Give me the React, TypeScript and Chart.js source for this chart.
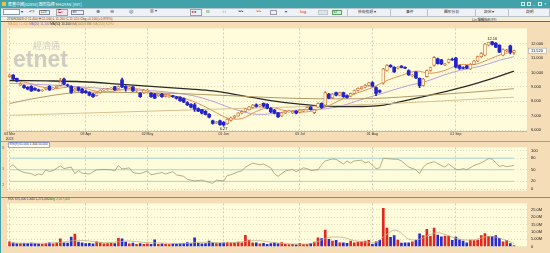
import React, { useEffect, useRef } from 'react';
import { Chart, registerables } from 'chart.js';
Chart.register(...registerables);

// ---------------- data ----------------
const lastDate = '27/09/2023';
const dateTickIdx = [0, 21, 38, 59, 80, 100, 123];
const dateTickLabels: (string | string[])[] = [['03 Mar', '2023'], '03 Apr', '02 May', '01 Jun', '03 Jul', '01 Aug', '01 Sep'];

const opens = [
  9.72, 9.82, 9.60, 9.12, 9.10, 8.98, 9.05, 8.90, 8.80, 8.72,
  8.85, 9.05, 8.85, 8.95, 9.10, 9.55, 9.15, 9.05, 8.72, 8.95,
  8.85, 8.72, 8.62, 8.50, 8.40, 8.60, 8.80, 8.82, 8.86, 9.00,
  8.90, 9.50, 9.05, 8.95, 9.00, 8.72, 8.55, 8.60, 8.75, 8.55,
  8.50, 8.40, 8.50, 8.35, 8.32, 8.38, 8.32, 8.30, 8.20, 7.92,
  7.80, 7.75, 7.50, 7.42, 7.30, 7.10, 6.65, 6.50, 6.65, 6.55,
  6.45, 6.68, 6.88, 6.98, 7.18, 7.30, 7.42, 7.55, 7.76, 7.68,
  7.86, 7.80, 7.52, 7.40, 7.20, 6.98, 7.20, 7.28, 7.20, 7.32,
  7.25, 7.33, 7.42, 7.60, 7.22, 7.60, 7.86, 7.75, 8.50, 8.25,
  8.60, 8.42, 8.60, 8.40, 8.36, 8.55, 8.75, 8.88, 8.98, 9.10,
  9.30, 8.95, 8.75, 9.27, 10.15, 10.50, 10.36, 10.30, 10.44, 10.36,
  10.14, 9.76, 10.03, 9.60, 9.10, 9.72, 10.14, 10.50, 10.95, 10.88,
  10.52, 10.70, 10.92, 11.00, 10.48, 10.34, 10.47, 10.25, 10.58, 10.80,
  11.10, 11.20, 11.90, 12.14, 12.05, 11.90, 11.20, 11.52, 11.85, 11.40,
];
const highs = [
  9.88, 9.85, 9.62, 9.30, 9.15, 9.02, 9.10, 8.95, 8.85, 8.82,
  8.95, 9.10, 8.98, 9.10, 9.60, 9.62, 9.20, 9.10, 8.90, 9.00,
  8.90, 8.78, 8.68, 8.55, 8.62, 8.82, 8.88, 8.90, 8.95, 9.05,
  9.08, 9.62, 9.10, 9.05, 9.02, 8.82, 8.60, 8.82, 8.85, 8.60,
  8.55, 8.55, 8.55, 8.48, 8.45, 8.42, 8.35, 8.32, 8.25, 7.98,
  7.85, 7.86, 7.55, 7.45, 7.35, 7.15, 6.70, 6.62, 6.70, 6.60,
  6.80, 6.90, 7.02, 7.22, 7.35, 7.52, 7.66, 7.80, 7.82, 7.80,
  7.90, 7.84, 7.56, 7.44, 7.24, 7.24, 7.38, 7.38, 7.35, 7.36,
  7.45, 7.42, 7.62, 7.64, 7.46, 7.90, 7.90, 8.68, 8.56, 8.55,
  8.64, 8.65, 8.64, 8.45, 8.58, 8.78, 8.94, 9.04, 9.16, 9.32,
  9.38, 9.00, 8.80, 10.30, 10.55, 10.55, 10.42, 10.42, 10.48, 10.40,
  10.18, 9.88, 10.06, 9.64, 9.60, 10.18, 10.38, 11.10, 11.00, 10.92,
  10.64, 10.94, 11.00, 11.05, 10.52, 10.40, 10.50, 10.62, 10.84, 11.14,
  11.38, 12.02, 12.12, 12.16, 12.08, 11.92, 11.64, 11.62, 11.90, 11.56,
];
const lows = [
  9.66, 9.50, 9.35, 9.08, 8.90, 8.80, 8.68, 8.75, 8.68, 8.68,
  8.80, 8.75, 8.82, 8.90, 9.05, 9.15, 9.02, 8.55, 8.68, 8.70,
  8.55, 8.55, 8.38, 8.28, 8.36, 8.55, 8.75, 8.78, 8.82, 8.75,
  8.85, 8.95, 8.70, 8.90, 8.68, 8.65, 8.28, 8.55, 8.70, 8.28,
  8.18, 8.35, 8.28, 8.30, 8.28, 8.28, 8.15, 8.00, 7.90, 7.70,
  7.55, 7.30, 7.28, 7.12, 7.05, 6.85, 6.42, 6.45, 6.32, 6.27,
  6.40, 6.62, 6.82, 6.95, 7.12, 7.25, 7.38, 7.50, 7.60, 7.62,
  7.60, 7.48, 7.22, 7.12, 6.88, 6.94, 7.15, 7.24, 7.15, 7.12,
  7.20, 7.28, 7.38, 7.38, 7.15, 7.56, 7.50, 7.70, 8.18, 8.18,
  8.38, 8.38, 8.28, 8.22, 8.32, 8.50, 8.70, 8.84, 8.94, 9.06,
  9.00, 8.40, 8.58, 9.20, 10.10, 10.35, 10.00, 10.25, 10.32, 10.26,
  9.80, 9.72, 9.58, 8.95, 9.05, 9.68, 10.10, 10.45, 10.58, 10.55,
  10.48, 10.65, 10.84, 10.32, 10.22, 10.25, 10.26, 10.20, 10.54, 10.76,
  11.05, 11.15, 11.85, 11.90, 11.72, 11.38, 11.15, 11.45, 11.30, 11.26,
];
const closes = [
  9.82, 9.55, 9.40, 9.22, 8.95, 8.85, 8.72, 8.80, 8.72, 8.78,
  8.90, 8.80, 8.92, 9.05, 9.35, 9.20, 9.10, 8.62, 8.85, 8.75,
  8.60, 8.60, 8.42, 8.32, 8.58, 8.78, 8.83, 8.86, 8.90, 8.80,
  9.02, 9.00, 8.90, 9.00, 8.72, 8.75, 8.32, 8.78, 8.78, 8.32,
  8.22, 8.50, 8.32, 8.42, 8.40, 8.32, 8.20, 8.05, 7.95, 7.75,
  7.60, 7.45, 7.32, 7.18, 7.10, 6.90, 6.47, 6.56, 6.38, 6.36,
  6.76, 6.85, 6.96, 7.18, 7.30, 7.48, 7.62, 7.74, 7.65, 7.75,
  7.66, 7.52, 7.26, 7.18, 6.92, 7.20, 7.33, 7.32, 7.30, 7.17,
  7.40, 7.38, 7.57, 7.42, 7.42, 7.85, 7.56, 8.60, 8.22, 8.50,
  8.42, 8.60, 8.32, 8.28, 8.55, 8.75, 8.90, 9.00, 9.12, 9.28,
  9.05, 8.55, 8.65, 10.25, 10.48, 10.40, 10.05, 10.38, 10.36, 10.30,
  9.84, 9.82, 9.62, 9.08, 9.55, 10.14, 10.34, 11.05, 10.62, 10.60,
  10.60, 10.90, 10.88, 10.38, 10.28, 10.30, 10.30, 10.58, 10.80, 11.10,
  11.32, 11.98, 12.10, 11.96, 11.76, 11.42, 11.60, 11.58, 11.42, 11.52,
];
// volume in millions of shares
const volumes = [
  3.2, 2.5, 2.0, 2.0, 2.2, 2.2, 2.3, 2.2, 1.8, 1.5,
  2.0, 2.6, 1.8, 2.6, 5.2, 2.5, 2.4, 6.4, 8.5, 3.0,
  2.5, 2.0, 2.2, 1.8, 3.2, 2.5, 1.8, 2.0, 2.2, 2.0,
  5.6, 5.2, 3.0, 1.8, 2.4, 1.5, 2.0, 1.6, 1.8, 1.5,
  4.6, 1.6, 1.8, 1.5, 1.4, 1.8, 1.8, 2.0, 2.2, 2.8,
  2.0, 6.0, 2.2, 1.8, 2.0, 3.7, 2.5, 2.0, 2.2, 2.6,
  2.8, 2.5, 2.6, 3.0, 2.6, 7.7, 4.5, 2.5, 2.5, 1.8,
  2.2, 1.6, 2.0, 2.5, 2.0, 2.8, 1.6, 1.4, 1.5, 1.2,
  2.2, 1.6, 1.6, 2.2, 3.0, 6.0, 5.5, 11.2, 5.0, 3.7,
  4.2, 2.5, 2.5, 2.2, 3.7, 2.5, 3.0, 3.2, 3.7, 4.2,
  1.5, 3.2, 4.2, 25.9, 12.6, 6.2, 7.5, 4.4, 2.3, 2.5,
  2.5, 3.2, 4.2, 8.7, 7.5, 11.7, 6.9, 12.6, 7.8, 6.7,
  7.2, 7.2, 4.2, 6.4, 4.6, 3.7, 2.5, 4.4, 4.0, 4.4,
  7.5, 8.8, 6.9, 6.9, 7.5, 5.6, 3.2, 4.2, 2.0, 0.675,
];

const ma10Idx = [0, 4, 8, 12, 16, 20, 24, 28, 32, 36, 40, 44, 48, 52, 56, 60, 64, 68, 72, 76, 80, 84, 88, 92, 96, 100, 104, 108, 112, 116, 120, 124, 128, 132, 136, 139];
const ma10Val = [9.4, 9.35, 9.05, 8.88, 8.98, 8.95, 8.7, 8.68, 8.85, 8.85, 8.55, 8.45, 8.22, 7.85, 7.35, 6.85, 6.8, 7.3, 7.58, 7.35, 7.25, 7.35, 7.7, 8.2, 8.6, 8.95, 9.45, 9.8, 10.1, 9.95, 10.15, 10.55, 10.55, 10.9, 11.3, 11.4];
const ma20Idx = [0, 10, 20, 30, 40, 50, 56, 62, 68, 74, 80, 86, 92, 96, 102, 110, 115, 120, 124, 130, 135, 139];
const ma20Val = [9.25, 9.15, 9.0, 8.82, 8.72, 8.42, 8.0, 7.45, 7.1, 7.2, 7.42, 7.45, 7.72, 8.05, 8.5, 9.1, 9.4, 9.85, 10.14, 10.45, 10.85, 11.1];
const ma50Idx = [0, 10, 20, 30, 40, 50, 56, 64, 72, 80, 88, 96, 102, 110, 118, 126, 132, 139];
const ma50Val = [9.45, 9.42, 9.36, 9.2, 9.02, 8.85, 8.72, 8.4, 8.05, 7.8, 7.65, 7.64, 7.7, 8.1, 8.55, 9.05, 9.5, 10.1];
const ma100Idx = [0, 8, 18, 30, 45, 60, 80, 100, 115, 128, 139];
const ma100Val = [7.85, 8.25, 8.6, 8.62, 8.55, 8.4, 8.2, 8.2, 8.42, 8.65, 8.88];
const ma250Idx = [0, 52, 100, 139];
const ma250Val = [7.03, 7.42, 7.8, 8.29];

const rsiIdx = [0, 1, 2, 3, 4, 6, 7, 8, 9, 10, 11, 12, 14, 15, 17, 18, 19, 20, 22, 24, 26, 28, 29, 30, 31, 33, 34, 35, 36, 38, 39, 41, 42, 43, 45, 46, 48, 49, 51, 53, 54, 56, 57, 59, 60, 61, 63, 64, 65, 67, 69, 70, 72, 73, 74, 76, 78, 79, 81, 82, 83, 85, 86, 87, 89, 90, 92, 93, 94, 95, 97, 98, 99, 101, 102, 103, 105, 107, 108, 110, 112, 113, 114, 115, 117, 119, 120, 121, 123, 124, 125, 126, 128, 130, 132, 133, 135, 136, 137, 139];
const rsiVal = [57, 63, 53, 47, 43, 40, 35, 39, 37, 50, 45, 48, 60, 53, 57, 40, 48, 41, 39, 50, 51, 50, 47, 61, 52, 55, 43, 41, 40, 47, 37, 41, 43, 39, 45, 37, 33, 25, 21, 23, 20, 15, 23, 21, 35, 37, 45, 47, 57, 67, 63, 65, 55, 40, 33, 47, 51, 45, 55, 53, 48, 50, 63, 73, 78, 77, 65, 73, 67, 73, 75, 68, 71, 53, 55, 80, 78, 77, 73, 57, 50, 40, 57, 65, 71, 61, 57, 65, 51, 50, 53, 50, 61, 68, 79, 78, 59, 61, 58, 61];
const rsiLevels = [20, 50, 80];

const volMaIdx = [0, 8, 14, 18, 22, 26, 30, 33, 37, 42, 48, 52, 56, 61, 66, 69, 73, 78, 83, 86, 88, 92, 95, 99, 101, 103, 106, 108, 110, 113, 117, 119, 122, 125, 128, 131, 133, 136, 139];
const volMaVal = [2.5, 2.2, 2.8, 4.2, 3.8, 2.6, 3.2, 3.8, 2.8, 2.4, 2.0, 2.9, 2.8, 2.5, 3.8, 4.0, 2.6, 1.8, 2.0, 4.5, 6.2, 6.2, 4.0, 3.0, 2.8, 6.5, 11.2, 9.0, 5.0, 5.0, 9.2, 9.0, 6.4, 4.6, 4.6, 6.5, 6.9, 5.0, 2.2];

const priceTicks = [6, 7, 8, 9, 10, 11, 12];
const rsiTicks = [0, 20, 50, 80, 100];
const volTicks = [0, 5, 10, 15, 20, 25];

// ---------------- layout / style ----------------
const FONT = '"Liberation Sans", Arial, sans-serif';
const CJK = '"Noto Sans CJK TC", "Noto Sans CJK SC", sans-serif';
const X_MIN = -0.7;
const X_MAX = 142.6;
const PRICE_MIN = 5.94;
const PRICE_MAX = 13.065;
const RSI_MIN = -4;
const RSI_MAX = 108;
const VOL_MAX = 29.26;
const C = {
  plot: '#fffcdc', axis: '#f5ddb7', up: '#d27a3e', down: '#2323c8',
  volUp: '#e0281c', volDown: '#2a2acc', ma10: '#e3925a', ma20: '#bb9fd2',
  ma50: '#2a2a2a', ma100: '#b49a66', ma250: '#d8c28e', rsi: '#a29a6e',
  level: '#a3d6d2', volMa: '#bdb088', teal: '#41a2a9',
};

const pts = (xs: number[], ys: number[]) => xs.map((x, i) => ({ x, y: ys[i] }));

const xScale = (showLabels: boolean, h: number) => ({
  type: 'linear', min: X_MIN, max: X_MAX, offset: false,
  afterBuildTicks: (a: any) => { a.ticks = dateTickIdx.map((v) => ({ value: v })); },
  afterFit: (a: any) => { a.height = h; },
  grid: { color: '#bdbcae', lineWidth: 0.7, drawTicks: false, offset: false },
  border: { display: false, dash: [2, 2] },
  ticks: {
    display: showLabels, autoSkip: false, maxRotation: 0, minRotation: 0, padding: 1.5,
    color: '#333', font: { family: FONT, size: 3.5, lineHeight: 1.15 },
    callback: (_v: any, i: number) => dateTickLabels[i],
  },
});
const yScale = (min: number, max: number, vals: number[], fmt: (v: number) => string) => ({
  type: 'linear', position: 'right', min, max, beginAtZero: false,
  afterBuildTicks: (a: any) => { a.ticks = vals.map((v) => ({ value: v })); },
  afterFit: (a: any) => { a.width = 23; },
  grid: { color: '#d2cdb0', lineWidth: 0.7, drawTicks: false },
  border: { display: false, dash: [1, 2] },
  ticks: { padding: 4, color: '#222', font: { family: FONT, size: 4 }, callback: (v: any) => fmt(Number(v)) },
});

const bgPlugin = (watermark: boolean) => ({
  id: 'bg',
  beforeDraw(chart: any) {
    const { ctx, chartArea: a, width, height } = chart;
    ctx.save();
    ctx.fillStyle = C.axis;
    ctx.fillRect(0, 0, width, height);
    ctx.fillStyle = C.plot;
    ctx.fillRect(a.left, a.top, a.right - a.left, a.bottom - a.top);
    if (watermark) {
      ctx.fillStyle = '#cdcdc4';
      ctx.textAlign = 'left';
      ctx.textBaseline = 'alphabetic';
      ctx.font = `9px ${CJK}`;
      ctx.fillText('經濟通', a.left + 26, a.top + 21);
      ctx.font = `bold 23px ${FONT}`;
      ctx.fillText('etnet', a.left + 6, a.top + 39);
    }
    ctx.restore();
  },
});

const markPlugin = {
  id: 'marks',
  afterDatasetsDraw(chart: any) {
    const { ctx, scales, chartArea } = chart;
    const x = scales.x, y = scales.y;
    const hi = Math.max(...highs), hiI = highs.indexOf(hi);
    const lo = Math.min(...lows), loI = lows.indexOf(lo);
    ctx.save();
    ctx.font = `4px ${FONT}`;
    ctx.fillStyle = '#111';
    ctx.textAlign = 'center';
    ctx.textBaseline = 'bottom';
    ctx.fillText(hi.toFixed(2), x.getPixelForValue(hiI), y.getPixelForValue(hi) - 1);
    ctx.textBaseline = 'top';
    ctx.fillText(lo.toFixed(2), x.getPixelForValue(loI), y.getPixelForValue(lo) + 1);
    const last = closes[closes.length - 1];
    const py = y.getPixelForValue(last);
    const bx = chartArea.right + 1.5;
    ctx.fillStyle = '#ffffff';
    ctx.fillRect(bx, py - 2.5, 18, 5);
    ctx.strokeStyle = '#999';
    ctx.lineWidth = 0.5;
    ctx.strokeRect(bx, py - 2.5, 18, 5);
    ctx.fillStyle = '#111';
    ctx.textAlign = 'left';
    ctx.textBaseline = 'middle';
    ctx.fillText(last.toFixed(3), bx + 2.5, py + 0.3);
    ctx.restore();
  },
};

const baseOpts = (scales: any) => ({
  animation: false, responsive: false, events: [],
  layout: { padding: { left: 7, right: 0, top: 0, bottom: 0 }, autoPadding: false },
  plugins: { legend: { display: false }, tooltip: { enabled: false } },
  scales,
});

const maLine = (xs: number[], ys: number[], color: string, w = 1) => ({
  type: 'line', data: pts(xs, ys), borderColor: color, borderWidth: w,
  pointRadius: 0, tension: 0.35, fill: false, order: 5,
});

const Txt = ({ l, t, s = 3.5, c = '#222', f = FONT, w = 400, children }: any) => (
  <div style={{ position: 'absolute', left: l, top: t, fontSize: s, lineHeight: 1, color: c, fontFamily: f, fontWeight: w, whiteSpace: 'nowrap' }}>{children}</div>
);
const Box = ({ l, t, w, h, bg = 'transparent', b = 'none' }: any) => (
  <div style={{ position: 'absolute', left: l, top: t, width: w, height: h, background: bg, border: b, boxSizing: 'border-box' }} />
);

export default function App() {
  const mainRef = useRef<HTMLCanvasElement>(null);
  const rsiRef = useRef<HTMLCanvasElement>(null);
  const volRef = useRef<HTMLCanvasElement>(null);

  useEffect(() => {
    const up = closes.map((c, i) => c >= opens[i]);
    const charts: Chart[] = [];

    charts.push(new Chart(mainRef.current as HTMLCanvasElement, {
      type: 'bar',
      data: {
        datasets: [
          maLine(ma250Idx, ma250Val, C.ma250),
          maLine(ma100Idx, ma100Val, C.ma100),
          maLine(ma50Idx, ma50Val, C.ma50, 1.3),
          maLine(ma20Idx, ma20Val, C.ma20),
          maLine(ma10Idx, ma10Val, C.ma10),
          {
            type: 'bar', order: 2, grouped: false, barThickness: 1,
            data: closes.map((_, i) => ({ x: i, y: [lows[i], highs[i]] })),
            backgroundColor: up.map((u) => (u ? C.up : C.down)),
          },
          {
            type: 'bar', order: 1, grouped: false, barThickness: 3, borderSkipped: false,
            data: closes.map((c, i) => ({ x: i, y: [opens[i], c] })),
            backgroundColor: up.map((u) => (u ? C.plot : C.down)),
            borderColor: up.map((u) => (u ? C.up : C.down)),
            borderWidth: up.map((u) => (u ? 0.8 : 0)),
          },
        ] as any,
      },
      options: baseOpts({
        x: xScale(true, 10),
        y: yScale(PRICE_MIN, PRICE_MAX, priceTicks, (v) => v.toFixed(3)),
      }) as any,
      plugins: [bgPlugin(true), markPlugin],
    }));

    charts.push(new Chart(rsiRef.current as HTMLCanvasElement, {
      type: 'line',
      data: {
        datasets: [
          ...rsiLevels.map((lv) => ({
            data: [{ x: rsiIdx[0], y: lv }, { x: rsiIdx[rsiIdx.length - 1], y: lv }],
            borderColor: C.level, borderWidth: 1, pointRadius: 0, order: 3,
          })),
          { data: pts(rsiIdx, rsiVal), borderColor: C.rsi, borderWidth: 0.8, pointRadius: 0, tension: 0, order: 1 },
        ] as any,
      },
      options: baseOpts({
        x: xScale(false, 0),
        y: yScale(RSI_MIN, RSI_MAX, rsiTicks, (v) => String(v)),
      }) as any,
      plugins: [bgPlugin(false)],
    }));

    charts.push(new Chart(volRef.current as HTMLCanvasElement, {
      type: 'bar',
      data: {
        datasets: [
          { type: 'line', data: pts(volMaIdx, volMaVal), borderColor: C.volMa, borderWidth: 0.8, pointRadius: 0, tension: 0.35, order: 1 },
          {
            type: 'bar', order: 2, grouped: false, barThickness: 2,
            data: volumes.map((v, i) => ({ x: i, y: v })),
            backgroundColor: up.map((u) => (u ? C.volUp : C.volDown)),
          },
        ] as any,
      },
      options: baseOpts({
        x: xScale(false, 1),
        y: yScale(0, VOL_MAX, volTicks, (v) => (v === 0 ? '0' : (v >= 10 ? v.toFixed(1) : v.toFixed(2)) + 'M')),
      }) as any,
      plugins: [bgPlugin(false)],
    }));

    return () => charts.forEach((c) => c.destroy());
  }, []);

  const n = closes.length - 1;
  const chg = closes[n] - closes[n - 1];
  const pct = (chg / closes[n - 1]) * 100;
  const red = '#c81e1e';
  const f3 = (v: number) => v.toFixed(3);

  return (
    <div style={{ position: 'fixed', left: 0, top: 0, width: 550, height: 253, overflow: 'hidden', background: C.axis, fontFamily: FONT }}>
      {/* title bar */}
      <Box l={0} t={0} w={550} h={7.5} bg={C.teal} />
      <Box l={1.5} t={1.5} w={4} h={4} bg="#f0c040" />
      <Txt l={8} t={1.8} s={4} c="#ffffff" f={CJK}>匯豐中國[02858] 圖形指標 MAOYAN [INT]</Txt>
      <Box l={521} t={1.5} w={4} h={4} b="0.6px solid #d8eef0" />
      <Box l={527} t={1.5} w={4} h={4} b="0.6px solid #d8eef0" />
      <Txt l={533} t={1.5} s={4} c="#e8f6f6">_</Txt>
      <Box l={538} t={1.5} w={4} h={4} b="0.6px solid #d8eef0" />
      <Txt l={544} t={1.6} s={4} c="#e8f6f6">×</Txt>

      {/* toolbar */}
      <Box l={0} t={7.5} w={550} h={9.5} bg="#eef2f6" b="0.5px solid #b8c4cc" />
      <Box l={3} t={9} w={17} h={6} bg="#ffffff" b="0.6px solid #8a9aa6" />
      <Txt l={20.5} t={10} s={4} c="#333">▾</Txt>
      <Txt l={29} t={9.8} s={4.2} c="#334">↶?</Txt>
      <Box l={39} t={9.5} w={11} h={5.5} b="0.6px solid #889" />
      <Txt l={40.5} t={10.5} s={3.5} c="#333">123</Txt>
      <Box l={56} t={9} w={12} h={6.5} bg="#f4e6ea" b="0.6px solid #a0a0b0" />
      <Txt l={58} t={10} s={4} c="#c02020">⊏≈</Txt>
      <Box l={71} t={9.5} w={13} h={5.5} b="0.6px solid #889" />
      <Txt l={72.5} t={10.5} s={3.5} c="#2040a0">dn</Txt>
      <Txt l={96} t={9.8} s={4.5} c="#305080">⊕</Txt>
      <Txt l={110} t={9.8} s={4.5} c="#305080">⊖</Txt>
      <Txt l={129} t={9.8} s={4.5} c="#305080">◎</Txt>
      <Txt l={150} t={10.2} s={3.8} c="#444">▥ ▾</Txt>
      <Box l={190} t={9} w={12} h={6.5} b="0.6px solid #a0a0b0" />
      <Txt l={191.5} t={10} s={4} c="#d02020">●<span style={{ color: '#2030c0' }}>●</span></Txt>
      <Txt l={206} t={10} s={4} c="#20a040">‖‖</Txt>
      <Txt l={222} t={10} s={4} c="#306080">↕↕</Txt>
      <Txt l={238} t={10} s={4.5} c="#2040c0">〰</Txt>
      <Txt l={256} t={10} s={4.5} c="#e07020">〰</Txt>
      <Box l={270} t={9.5} w={7} h={5.5} b="0.6px solid #99a" />
      <Txt l={285} t={10.2} s={4} c="#333">▾</Txt>
      <Txt l={300} t={10.2} s={4.2} c="#e07020" w={700}>log</Txt>
      <Box l={318} t={9.5} w={10} h={5.5} bg="#dfe4e8" b="0.5px solid #c0c8d0" />
      <Box l={332} t={9.5} w={10} h={5.5} bg="#d8ecd8" b="0.6px solid #60a060" />
      <Txt l={333.5} t={10.5} s={3.5} c="#207020">x2</Txt>
      {[347, 390, 427, 475, 508].map((x) => <Box key={x} l={x} t={8.5} w={0.6} h={7.5} bg="#b8c4cc" />)}
      <Txt l={358} t={10.3} s={3.8} f={CJK} c="#333">技術指標 ▾</Txt>
      <Txt l={406} t={10.3} s={3.8} f={CJK} c="#333">事件</Txt>
      <Txt l={444} t={10.3} s={3.8} f={CJK} c="#333">圖形分析</Txt>
      <Txt l={484} t={10.3} s={3.8} f={CJK} c="#333">設定 ▾</Txt>
      <Txt l={526} t={10.3} s={3.8} f={CJK} c="#333">說明</Txt>

      {/* info row */}
      <Box l={0} t={17} w={550} h={4.5} bg="#f8ecd2" />
      <Txt l={7} t={17.6} s={3.3} c="#333">
        {lastDate} O <span style={{ color: red }}>{f3(opens[n])}</span> H <span style={{ color: red }}>{f3(highs[n])}</span> L <span style={{ color: red }}>{f3(lows[n])}</span> C <span style={{ color: red }}>{f3(closes[n])}</span> Chg <span style={{ color: red }}>+{f3(chg)}(+{pct.toFixed(3)}%)</span>
      </Txt>
      <Txt l={472} t={17.6} s={3.3} c="#333" f={CJK}>Lin 編輯指標(F9)</Txt>

      {/* canvases */}
      <canvas ref={mainRef} width={550} height={119} style={{ position: 'absolute', left: 0, top: 22, width: 550, height: 119 }} />
      <canvas ref={rsiRef} width={550} height={56} style={{ position: 'absolute', left: 0, top: 141, width: 550, height: 56 }} />
      <canvas ref={volRef} width={550} height={56} style={{ position: 'absolute', left: 0, top: 197, width: 550, height: 56 }} />

      {/* panel borders */}
      <Box l={0} t={21.3} w={550} h={0.8} bg="#6a6a60" />
      <Box l={7} t={130.7} w={520} h={0.5} bg="#c0b8a0" />
      <Box l={0} t={140.8} w={550} h={0.6} bg="#a8a090" />
      <Box l={0} t={196.6} w={550} h={0.8} bg="#8a8a80" />
      <Box l={0} t={7.5} w={1.2} h={246} bg={C.teal} />

      {/* legends */}
      <Txt l={8} t={22.8} s={3.1}>
        <span style={{ color: C.ma10 }}>MA(10) {f3(ma10Val[ma10Val.length - 1])} </span>
        <span style={{ color: '#8a6ab0' }}>MA(20) {f3(ma20Val[ma20Val.length - 1])} </span>
        <span style={{ color: '#222' }}>MA(50) {f3(ma50Val[ma50Val.length - 1])} </span>
        <span style={{ color: '#9a7e48' }}>MA(100) {f3(ma100Val[ma100Val.length - 1])} </span>
        <span style={{ color: '#b89a58' }}>MA(250) {f3(ma250Val[ma250Val.length - 1])}</span>
      </Txt>
      <div style={{ position: 'absolute', left: 7.5, top: 141.8, height: 3.8, padding: '0 1px', border: '0.5px solid #a0a8c8', fontSize: 3.1, lineHeight: '3.8px', color: '#2a3aa0', whiteSpace: 'nowrap', background: '#fffef0' }}>
        RSI(9) {rsiVal[rsiVal.length - 1].toFixed(3)} <span style={{ color: '#333' }}>1.344</span> 50.000
      </div>
      <Txt l={8} t={197.8} s={3.1} c="#333">
        VOL <span style={{ color: '#2a3aa0' }}>{Math.round(volumes[n] * 1e6).toLocaleString('en-US')}</span> 1.344 1,271,000 <span style={{ color: '#3a8a3a' }}>Avg 2,027,000</span>
      </Txt>
      <Txt l={2.2} t={147} s={3.3} c="#666">8</Txt>
      <Txt l={2.2} t={167.5} s={3.3} c="#666">5</Txt>
      <Txt l={2.2} t={184} s={3.3} c="#666">2</Txt>
    </div>
  );
}
